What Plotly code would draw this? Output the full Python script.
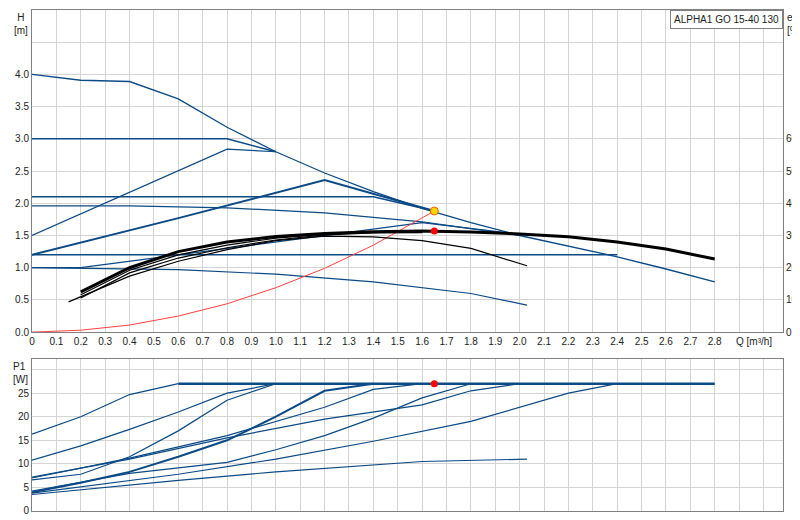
import plotly.graph_objects as go

# head curves (blue), Q [m3/h] vs H [m]
h_curves = [
    ([0, 0.2, 0.4, 0.6, 0.8, 1.0, 1.2, 1.4, 1.6, 1.8, 2.0, 2.2, 2.4, 2.6, 2.8],
     [4.0, 3.91, 3.89, 3.62, 3.18, 2.8, 2.47, 2.18, 1.92, 1.7, 1.5, 1.33, 1.17, 0.98, 0.78], 1.3),
    ([0, 0.8, 1.0], [3.0, 3.0, 2.8], 1.5),
    ([0, 0.8, 1.0], [1.5, 2.84, 2.8], 1.2),
    ([0, 1.4, 1.65], [2.1, 2.1, 1.88], 1.5),
    ([0, 0.2, 0.6, 1.2, 1.65], [1.2, 1.39, 1.77, 2.36, 1.88], 2),
    ([0, 0.4, 0.8, 1.2, 1.6, 2.0], [1.96, 1.96, 1.93, 1.85, 1.71, 1.5], 1.2),
    ([0, 2.4], [1.2, 1.2], 1.5),
    ([0, 0.2, 0.6, 1.0, 1.6, 2.0], [1.0, 1.0, 1.2, 1.4, 1.7, 1.52], 1.2),
    ([0, 0.6, 1.0, 1.4, 1.8, 2.03], [1.0, 0.97, 0.9, 0.78, 0.6, 0.42], 1.2),
]

# efficiency curves (black), eta [%]
eta_q_main = [0.2, 0.4, 0.6, 0.8, 1.0, 1.2, 1.4, 1.6, 1.8, 2.0, 2.2, 2.4, 2.6, 2.8]
eta_main = [12.5, 20, 25, 28, 29.7, 30.6, 31.2, 31.4, 31.1, 30.5, 29.6, 28.0, 25.8, 22.7]
eta_thin = [
    ([0.15, 0.4, 0.6, 0.8, 1.0, 1.2, 1.4, 1.6, 1.8, 2.03],
     [9.4, 17.4, 22, 25.6, 28.4, 29.8, 29.6, 28.4, 26, 20.6]),
    ([0.2, 0.4, 0.6, 0.8, 1.0, 1.2, 1.4, 1.6],
     [10.6, 18.4, 23.0, 26.2, 28.6, 30.2, 30.8, 30.9]),
    ([0.2, 0.4, 0.6, 0.8, 1.0, 1.2, 1.4, 1.6],
     [11.6, 19.2, 24.0, 27.0, 29.2, 30.4, 31.0, 31.2]),
]

# system curve (red)
sys_q = [0, 0.2, 0.4, 0.6, 0.8, 1.0, 1.2, 1.4, 1.65]
sys_h = [0, 0.03, 0.11, 0.25, 0.44, 0.69, 0.99, 1.35, 1.88]

# duty point
duty_q = 1.65
duty_h = 1.88
duty_eta = 31.4
duty_p1 = 27

# power curves P1 [W]
p1_curves = [
    ([0, 0.2, 0.4, 0.6], [16.3, 20, 24.7, 27], 1.2),
    ([0.6, 2.8], [27, 27], 2.5),
    ([0, 0.2, 0.4, 0.6, 0.8, 1.0], [10.8, 13.8, 17.3, 21, 25, 27], 1.2),
    ([0, 0.2, 0.4, 0.6, 0.8, 1.0], [6.6, 7.8, 11.5, 17, 23.5, 27], 1.2),
    ([0, 0.2, 0.4, 0.6, 0.8, 1.0, 1.2, 1.4], [4, 6, 8.3, 11.5, 15, 20, 25.5, 27], 2),
    ([0, 0.4, 0.8, 1.2, 1.4, 1.6], [7, 11.2, 16, 22, 25.8, 27], 1.2),
    ([0, 0.4, 0.8, 1.2, 1.6, 1.8, 2.0], [7.2, 11, 15.5, 19.5, 22.5, 25.5, 27], 1.2),
    ([0, 0.4, 0.8, 1.0, 1.2, 1.4, 1.6, 1.8], [4.2, 8, 10.3, 13, 16, 19.7, 24, 27], 1.2),
    ([0, 0.6, 1.0, 1.4, 1.8, 2.0, 2.2, 2.4], [3.8, 7.8, 11, 14.8, 19, 22, 25, 27], 1.2),
    ([0, 0.6, 1.0, 1.4, 1.6, 2.03], [3.5, 6.5, 8.3, 9.8, 10.5, 11], 1.2),
]

BLUE = "#0b4a85"
fig = go.Figure()
for q, h, w in h_curves:
    fig.add_trace(go.Scatter(x=q, y=h, mode="lines", line=dict(color=BLUE, width=w), xaxis="x", yaxis="y"))
fig.add_trace(go.Scatter(x=sys_q, y=sys_h, mode="lines", line=dict(color="#ff4040", width=1), xaxis="x", yaxis="y"))
for q, e in eta_thin:
    fig.add_trace(go.Scatter(x=q, y=e, mode="lines", line=dict(color="black", width=1.2), xaxis="x", yaxis="y2"))
fig.add_trace(go.Scatter(x=eta_q_main, y=eta_main, mode="lines", line=dict(color="black", width=3), xaxis="x", yaxis="y2"))
fig.add_trace(go.Scatter(x=[duty_q], y=[duty_h], mode="markers",
                         marker=dict(color="#ffd700", size=8, line=dict(color="#ff6000", width=1)), xaxis="x", yaxis="y"))
fig.add_trace(go.Scatter(x=[duty_q], y=[duty_eta], mode="markers", marker=dict(color="red", size=7), xaxis="x", yaxis="y2"))
for q, p, w in p1_curves:
    fig.add_trace(go.Scatter(x=q, y=p, mode="lines", line=dict(color=BLUE, width=w), xaxis="x2", yaxis="y3"))
fig.add_trace(go.Scatter(x=[duty_q], y=[duty_p1], mode="markers", marker=dict(color="red", size=7), xaxis="x2", yaxis="y3"))

grid = "#d4d4d4"
xcommon = dict(range=[0, 3.08], showline=True, linecolor="#808080", mirror=True, gridcolor=grid,
               zeroline=False, automargin=False, minor=dict(dtick=0.1, showgrid=True, gridcolor=grid))
tickq = [round(i * 0.1, 1) for i in range(29)]
fig.update_layout(
    width=800, height=520, showlegend=False,
    plot_bgcolor="white", paper_bgcolor="white",
    margin=dict(l=24, r=25, t=2, b=17, autoexpand=False),
    font=dict(family="Liberation Sans, Arial", size=10, color="#222"),
    xaxis=dict(xcommon, anchor="y", tickvals=tickq, ticktext=["0"] + [str(v) for v in tickq[1:]], ticks=""),
    xaxis2=dict(xcommon, anchor="y3", tickvals=tickq, showticklabels=False),
    yaxis=dict(domain=[0.357, 1], range=[0, 5], tickvals=[0, 0.5, 1, 1.5, 2, 2.5, 3, 3.5, 4],
               tickformat=".1f", showline=True, linecolor="#808080", gridcolor=grid, zeroline=False,
               automargin=False, minor=dict(dtick=0.5, showgrid=True, gridcolor=grid)),
    yaxis2=dict(overlaying="y", side="right", range=[0, 100], tickvals=[0, 10, 20, 30, 40, 50, 60],
                showgrid=False, showline=True, linecolor="#808080", zeroline=False, automargin=False),
    yaxis3=dict(domain=[0, 0.303], range=[0, 32.2], tickvals=[0, 5, 10, 15, 20, 25],
                showline=True, linecolor="#808080", mirror=True, gridcolor=grid, zeroline=False,
                automargin=False, minor=dict(dtick=5, showgrid=True, gridcolor=grid)),
    annotations=[
        dict(text="H<br>[m]", x=0, y=1, xref="paper", yref="paper", xanchor="right", yanchor="top",
             xshift=-2, showarrow=False, align="center"),
        dict(text="eta<br>[%]", x=1, y=1, xref="paper", yref="paper", xanchor="left", yanchor="top",
             xshift=2, showarrow=False, align="left"),
        dict(text="Q [m³/h]", x=2.96, y=0.357, xref="x", yref="paper", yanchor="top", yshift=-2,
             showarrow=False),
        dict(text="P1<br>[W]", x=0, y=0.303, xref="paper", yref="paper", xanchor="right", yanchor="top",
             xshift=-2, showarrow=False, align="left"),
        dict(text="ALPHA1 GO 15-40 130", x=1, y=1, xref="paper", yref="paper", xanchor="right",
             yanchor="top", showarrow=False, bordercolor="#808080", borderwidth=1, bgcolor="white",
             borderpad=3, font=dict(size=10)),
    ],
)
fig.write_html("out.html")
